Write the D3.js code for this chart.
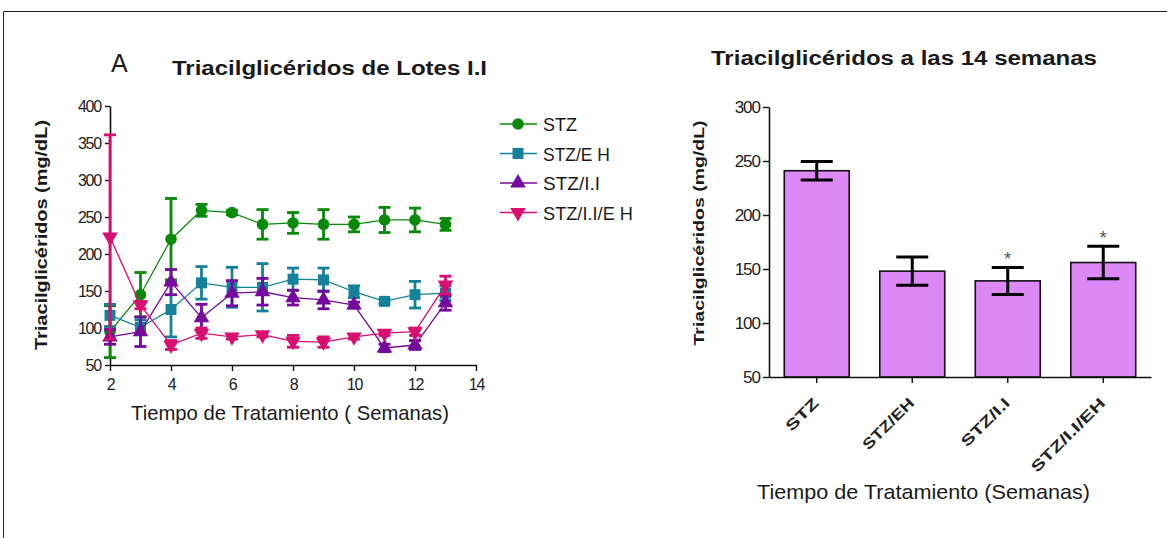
<!DOCTYPE html>
<html>
<head>
<meta charset="utf-8">
<script src="https://cdn.jsdelivr.net/npm/d3@7"></script>
<style>
  body { margin: 0; background: #fff; }
  svg { font-family: "Liberation Sans", Arial, sans-serif; }
</style>
</head>
<body>
<svg id="chart" width="1167" height="538"></svg>
<script>
// weeks of treatment (left panel)
var weeks = [2, 3, 4, 5, 6, 7, 8, 9, 10, 11, 12, 13];

// series means and SEM
var stz       = [95, 145, 220, 259, 256, 240, 242, 240, 240, 246, 246, 240];
var stzErr    = [35, 30, 55, 8, 3, 20, 14, 20, 10, 17, 16, 8];
var stzEh     = [117, 101, 125, 161, 155, 155, 166, 165, 149, 136, 145, 147];
var stzEhErr  = [15, 10, 37, 22, 27, 32, 15, 16, 8, 3, 18, 10];
var stzIi     = [88, 95, 162, 114, 147, 149, 141, 138, 131, 73, 77, 134];
var stzIiErr  = [10, 20, 17, 18, 17, 18, 10, 12, 4, 5, 6, 10];
var stzIiEh   = [223, 131, 77, 93, 88, 91, 82, 81, 88, 93, 95, 158];
var stzIiEhErr= [138, 5, 6, 7, 3, 3, 8, 7, 3, 3, 5, 12];

var seriesNames = ["STZ", "STZ/E H", "STZ/I.I", "STZ/I.I/E H"];

// right panel: week 14
var groups   = ["STZ", "STZ/EH", "STZ/I.I", "STZ/I.I/EH"];
var means14  = [241, 148, 139, 156];
var errs14   = [8.5, 13, 12.5, 15];
var signif14 = [false, false, true, true];

var svg = d3.select("#chart");

// frame round the figure
svg.append("path")
  .attr("d", "M3.5,540 V11.5 H1167")
  .attr("fill", "none").attr("stroke", "#222").attr("stroke-width", 1);

// text helper, stretches to the width measured on the picture
function label(parent, txt, size, bold, len) {
  var t = parent.append("text").text(txt)
    .style("font-size", size + "px").attr("fill", "#1a1a1a");
  if (bold) t.style("font-weight", "bold");
  if (len) t.attr("textLength", len).attr("lengthAdjust", "spacingAndGlyphs");
  return t;
}

//---------------- left panel ----------------
var x = d3.scaleLinear().domain([2, 14]).range([110, 476]);
var y = d3.scaleLinear().domain([50, 400]).range([365, 106]);

var left = svg.append("g");

// axes
var xAxis = left.append("g").attr("transform", "translate(0,365)")
  .call(d3.axisBottom(x).tickValues([2, 4, 6, 8, 10, 12, 14]).tickSize(6).tickSizeOuter(0));
var yAxis = left.append("g").attr("transform", "translate(110,0)")
  .call(d3.axisLeft(y).tickValues(d3.range(50, 401, 50)).tickSize(5).tickSizeOuter(0));
[xAxis, yAxis].forEach(function (a) {
  a.select(".domain").attr("stroke", "#111").attr("stroke-width", 1.6);
  a.selectAll(".tick line").attr("stroke", "#111").attr("stroke-width", 1.4);
  a.selectAll(".tick text").attr("fill", "#222").style("font-size", "16px").style("letter-spacing", "-1.2px");
});
xAxis.selectAll(".tick text").attr("dy", "1.0em");
yAxis.selectAll(".tick text").attr("dx", "-1px");

var series = [
  { name: seriesNames[0], vals: stz,     errs: stzErr,     color: "#078a07", shape: d3.symbolCircle,   size: 105 },
  { name: seriesNames[1], vals: stzEh,   errs: stzEhErr,   color: "#13829a", shape: d3.symbolSquare,   size: 120 },
  { name: seriesNames[2], vals: stzIi,   errs: stzIiErr,   color: "#760a9c", shape: d3.symbolTriangle, size: 105 },
  { name: seriesNames[3], vals: stzIiEh, errs: stzIiEhErr, color: "#d80e70", shape: d3.symbolTriangle, size: 105, down: true }
];

var line = d3.line().x(function (d) { return x(d[0]); }).y(function (d) { return y(d[1]); });

series.forEach(function (s) {
  var g = left.append("g");
  var pts = weeks.map(function (w, i) { return [w, s.vals[i], s.errs[i]]; });

  g.append("path").datum(pts).attr("d", line)
    .attr("fill", "none").attr("stroke", s.color).attr("stroke-width", 1.3);

  // error bars
  var eb = g.selectAll(".eb").data(pts).enter().append("g");
  eb.append("line")
    .attr("x1", function (d) { return x(d[0]); }).attr("x2", function (d) { return x(d[0]); })
    .attr("y1", function (d) { return y(d[1] - d[2]); }).attr("y2", function (d) { return y(d[1] + d[2]); })
    .attr("stroke", s.color).attr("stroke-width", 2.8);
  [-1, 1].forEach(function (sign) {
    eb.append("line")
      .attr("x1", function (d) { return x(d[0]) - 6; }).attr("x2", function (d) { return x(d[0]) + 6; })
      .attr("y1", function (d) { return y(d[1] + sign * d[2]); }).attr("y2", function (d) { return y(d[1] + sign * d[2]); })
      .attr("stroke", s.color).attr("stroke-width", 2.8);
  });

  // markers
  g.selectAll(".mk").data(pts).enter().append("path")
    .attr("d", d3.symbol().type(s.shape).size(s.size))
    .attr("transform", function (d) {
      return "translate(" + x(d[0]) + "," + y(d[1]) + ")" + (s.down ? " rotate(180)" : "");
    })
    .attr("fill", s.color);
});

// legend
var legendLens = [34, 67, 57, 90];
var legend = left.append("g").attr("transform", "translate(500,124)");
series.forEach(function (s, i) {
  var row = legend.append("g").attr("transform", "translate(0," + (i * 29.5) + ")");
  row.append("line").attr("x1", 0).attr("x2", 37).attr("stroke", s.color).attr("stroke-width", 1.6);
  row.append("path").attr("d", d3.symbol().type(s.shape).size(s.size))
    .attr("transform", "translate(18,0)" + (s.down ? " rotate(180)" : ""))
    .attr("fill", s.color);
  label(row, s.name, 18, false, legendLens[i]).attr("x", 43).attr("y", 7);
});

// titles
label(left, "A", 25, false).attr("x", 111).attr("y", 72);
label(left, "Triacilglicéridos de Lotes I.I", 20, true, 315).attr("x", 172).attr("y", 75);
label(left, "Triacilglicéridos (mg/dL)", 16.5, true, 230)
  .attr("transform", "translate(47,235) rotate(-90)").attr("text-anchor", "middle");
label(left, "Tiempo de Tratamiento ( Semanas)", 21, false, 318)
  .attr("x", 131).attr("y", 420);

//---------------- right panel ----------------
var xb = d3.scaleBand().domain(groups).range([769, 1151]).paddingInner(0.32).paddingOuter(0.16);
var yb = d3.scaleLinear().domain([50, 300]).range([377, 107]);

var right = svg.append("g");

// bars
right.selectAll(".bar").data(groups).enter().append("rect")
  .attr("x", function (d) { return xb(d); })
  .attr("width", xb.bandwidth())
  .attr("y", function (d, i) { return yb(means14[i]); })
  .attr("height", function (d, i) { return yb(50) - yb(means14[i]); })
  .attr("fill", "#dd88f7").attr("stroke", "#111").attr("stroke-width", 1.6);

// error bars
groups.forEach(function (g, i) {
  var cx = xb(g) + xb.bandwidth() / 2;
  var eg = right.append("g").attr("stroke", "#000").attr("stroke-width", 3);
  eg.append("line").attr("x1", cx).attr("x2", cx)
    .attr("y1", yb(means14[i] - errs14[i])).attr("y2", yb(means14[i] + errs14[i]));
  [-1, 1].forEach(function (sign) {
    eg.append("line").attr("x1", cx - 16).attr("x2", cx + 16)
      .attr("y1", yb(means14[i] + sign * errs14[i])).attr("y2", yb(means14[i] + sign * errs14[i]));
  });
  if (signif14[i]) {
    right.append("text").attr("x", cx).attr("y", yb(means14[i] + errs14[i]) - 2)
      .attr("text-anchor", "middle").text("*")
      .style("font-size", "19px").attr("fill", "#555");
  }
});

var xbAxis = right.append("g").attr("transform", "translate(0,377)")
  .call(d3.axisBottom(xb).tickSize(6).tickSizeOuter(0));
var ybAxis = right.append("g").attr("transform", "translate(769,0)")
  .call(d3.axisLeft(yb).tickValues(d3.range(50, 301, 50)).tickSize(6).tickSizeOuter(0));
[xbAxis, ybAxis].forEach(function (a) {
  a.select(".domain").attr("stroke", "#111").attr("stroke-width", 1.6);
  a.selectAll(".tick line").attr("stroke", "#111").attr("stroke-width", 1.4);
  a.selectAll(".tick text").attr("fill", "#222").style("font-size", "17px").style("letter-spacing", "-1px");
});
var catLens = [40, 66, 62, 98];
xbAxis.selectAll(".tick text")
  .attr("text-anchor", "end").attr("dy", null).attr("x", 0).attr("y", 0)
  .attr("transform", "translate(3,27) rotate(-45)")
  .attr("textLength", function (d, i) { return catLens[i]; })
  .attr("lengthAdjust", "spacingAndGlyphs")
  .style("font-weight", "bold").style("font-size", "15px").style("letter-spacing", "0px");

label(right, "Triacilglicéridos a las 14 semanas", 20, true, 386).attr("x", 711).attr("y", 65);
label(right, "Triacilglicéridos (mg/dL)", 15.5, true, 225)
  .attr("transform", "translate(704,233) rotate(-90)").attr("text-anchor", "middle");
label(right, "Tiempo de Tratamiento (Semanas)", 21, false, 333).attr("x", 757).attr("y", 499);
</script>
</body>
</html>
